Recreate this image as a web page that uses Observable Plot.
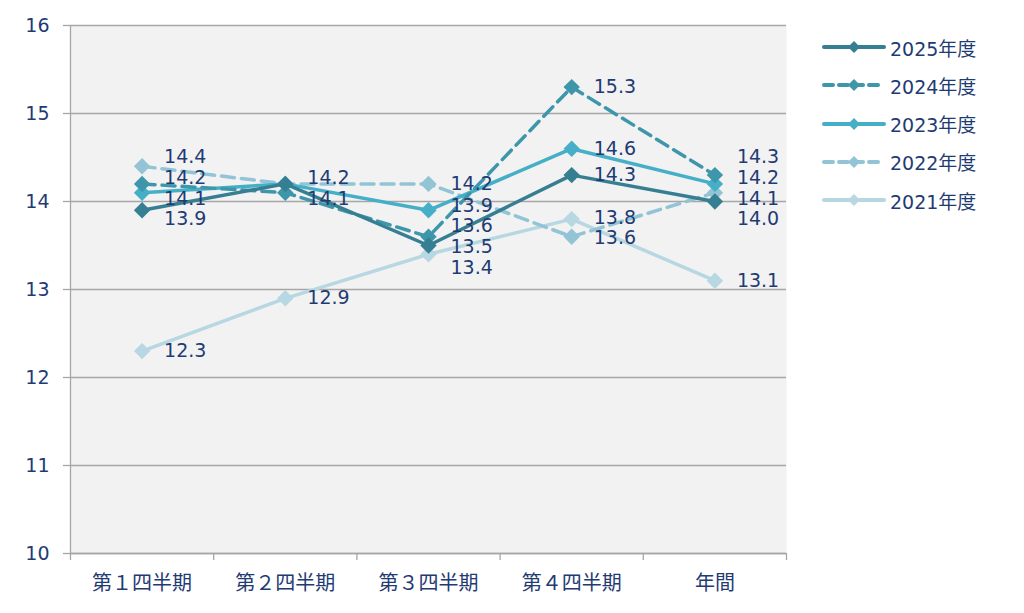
<!DOCTYPE html>
<html><head><meta charset="utf-8">
<script src="https://cdn.jsdelivr.net/npm/d3@7"></script>
<script src="https://cdn.jsdelivr.net/npm/@observablehq/plot@0.6"></script>
<style>
body{margin:0;background:#fff;font-family:"DejaVu Sans","Noto Sans CJK JP",sans-serif;}
#wrap{position:relative;width:1024px;height:613px;}
#legend{position:absolute;left:822px;top:28px;}
.item{display:flex;align-items:center;height:38.25px;color:#1f3b73;font-size:19px;}
.item svg{margin-right:2px;}
</style></head><body><div id="wrap"><div id="chart"></div><div id="legend"></div></div>
<script>
const categories = ["第１四半期","第２四半期","第３四半期","第４四半期","年間"];
const seriesNames = ["2025年度","2024年度","2023年度","2022年度","2021年度"];
const v2025 = [13.9, 14.2, 13.5, 14.3, 14.0];
const v2024 = [14.2, 14.1, 13.6, 15.3, 14.3];
const v2023 = [14.1, 14.2, 13.9, 14.6, 14.2];
const v2022 = [14.4, 14.2, 14.2, 13.6, 14.1];
const v2021 = [12.3, 12.9, 13.4, 13.8, 13.1];
const seriesValues = [v2025, v2024, v2023, v2022, v2021];
const colors = ["#367f93", "#3e96ab", "#46afc8", "#92c4d6", "#b7d7e2"];
const dashed = [false, true, false, true, false];
const yTicks = [10, 11, 12, 13, 14, 15, 16];

const navy = "#1f3b73";
const grid = "#a6a6a6";

const rows = [];
seriesNames.forEach((s, k) => seriesValues[k].forEach((v, i) => rows.push({series: s, k, i, value: v})));

// label placement: spread overlapping labels around their mean (value units)
const spacing = 0.235;
const labels = [];
categories.forEach((c, i) => {
  const vals = Array.from(new Set(rows.filter(r => r.i === i).map(r => r.value))).sort((a, b) => b - a);
  let clusters = vals.map(v => ({items: [v], center: v}));
  let merged = true;
  while (merged) {
    merged = false;
    for (let j = 0; j < clusters.length - 1; j++) {
      const a = clusters[j], b = clusters[j + 1];
      const aBottom = a.center - (a.items.length - 1) * spacing / 2;
      const bTop = b.center + (b.items.length - 1) * spacing / 2;
      if (aBottom - bTop < spacing) {
        const items = a.items.concat(b.items);
        clusters.splice(j, 2, {items, center: d3.mean(items)});
        merged = true;
        break;
      }
    }
  }
  clusters.forEach(cl => cl.items.forEach((v, n) => {
    labels.push({i, value: v, ly: cl.center + ((cl.items.length - 1) / 2 - n) * spacing});
  }));
});

const lineMarks = [];
for (let k = seriesNames.length - 1; k >= 0; k--) {
  const d = rows.filter(r => r.k === k);
  lineMarks.push(Plot.line(d, {x: "i", y: "value", stroke: colors[k], strokeWidth: 3.5,
    strokeDasharray: dashed[k] ? "13,7" : null, strokeLinejoin: "round"}));
  lineMarks.push(Plot.dot(d, {x: "i", y: "value", symbol: "diamond2", r: 7.4, fill: colors[k], stroke: null}));
}

const chart = Plot.plot({
  width: 1024, height: 613,
  marginLeft: 70, marginRight: 238, marginTop: 25, marginBottom: 60,
  style: {fontFamily: '"DejaVu Sans","Noto Sans CJK JP",sans-serif', background: "#fff"},
  x: {domain: [-0.5, 4.5]},
  y: {domain: [10, 16]},
  marks: [
    Plot.frame({fill: "#f2f2f2", stroke: null}),
    Plot.gridY(yTicks, {stroke: grid, strokeOpacity: 1, strokeWidth: 1.3}),
    Plot.ruleX([-0.5], {stroke: grid, strokeWidth: 1.3}),
    Plot.ruleY([10], {stroke: grid, strokeWidth: 1.3}),
    Plot.axisY(yTicks, {tickSize: 7, tickPadding: 14, stroke: grid, strokeWidth: 1.3, fill: navy, fontSize: 19, label: null, tickFormat: d => d}),
    Plot.axisX(d3.range(-0.5, 5, 1), {tickSize: 7, tickFormat: () => "", stroke: grid, strokeWidth: 1.3, label: null}),
    Plot.axisX(d3.range(5), {tickSize: 0, tickPadding: 22, tickFormat: i => categories[i], fill: navy, fontSize: 20, label: null}),
    ...lineMarks,
    Plot.text(labels, {x: "i", y: "ly", text: d => d.value.toFixed(1), dx: 22, textAnchor: "start", fill: navy, fontSize: 19})
  ]
});
document.getElementById("chart").appendChild(chart);

const legend = document.getElementById("legend");
seriesNames.forEach((s, k) => {
  const div = document.createElement("div");
  div.className = "item";
  const svg = d3.create("svg").attr("width", 66).attr("height", 20);
  svg.append("line").attr("x1", 2).attr("x2", 62).attr("y1", 10).attr("y2", 10)
    .attr("stroke", colors[k]).attr("stroke-width", 4)
    .attr("stroke-dasharray", dashed[k] ? "9,6" : null).attr("stroke-linecap", "round");
  svg.append("path").attr("d", "M32,4L38,10L32,16L26,10Z").attr("fill", colors[k]);
  div.appendChild(svg.node());
  const span = document.createElement("span");
  span.textContent = s;
  div.appendChild(span);
  legend.appendChild(div);
});
</script></body></html>
